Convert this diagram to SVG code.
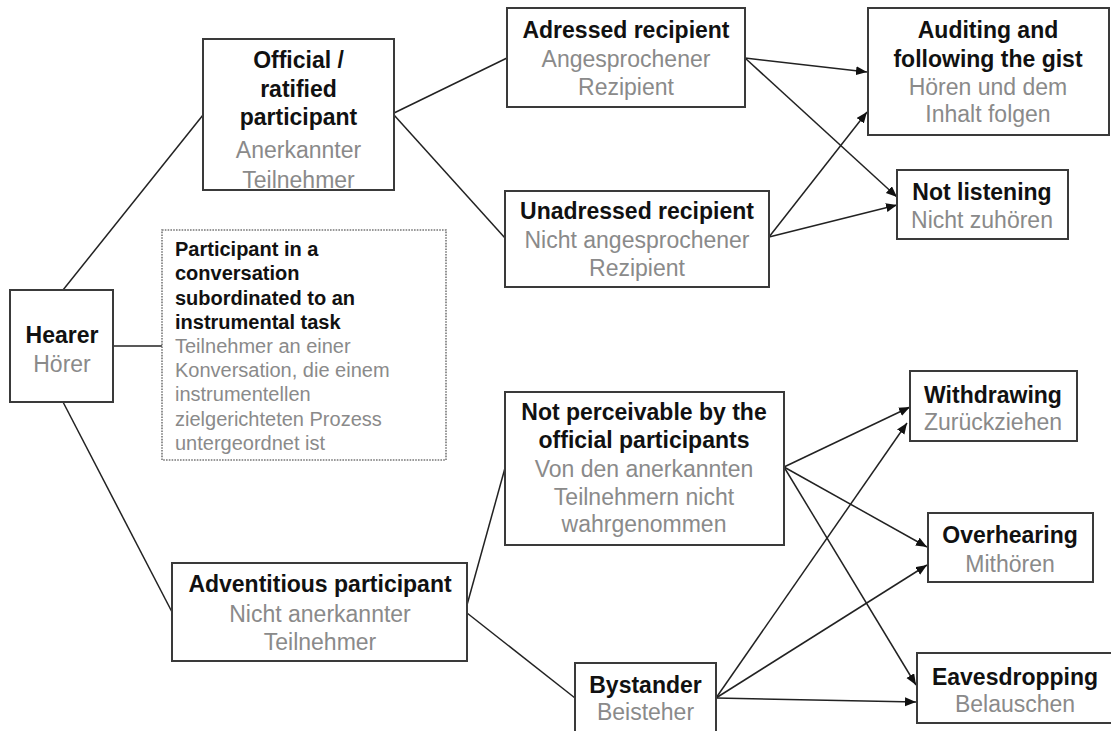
<svg xmlns="http://www.w3.org/2000/svg" width="1111" height="731" viewBox="0 0 1111 731">
<style>
.box{fill:#fff;stroke:#3a3a3a;stroke-width:2}
.dot{fill:#fff;stroke:#777;stroke-width:1.6;stroke-dasharray:1.6 1.2}
.t{font-family:"Liberation Sans",Arial,sans-serif;font-size:23px;text-anchor:middle}
.b{font-weight:bold;fill:#111}
.g{fill:#8a8a8a}
.s{font-family:"Liberation Sans",Arial,sans-serif;font-size:20px}
.ln{stroke:#222;stroke-width:1.5;fill:none}
.ar{stroke:#222;stroke-width:1.5;fill:none;marker-end:url(#ah)}
</style>
<defs>
<marker id="ah" markerUnits="userSpaceOnUse" markerWidth="12" markerHeight="10" refX="11" refY="4.5" orient="auto">
<path d="M0,0 L11,4.5 L0,9 Z" fill="#111"/>
</marker>
</defs>
<rect width="1111" height="731" fill="#fff"/>
<g id="connectors">
<line class="ln" x1="63" y1="290" x2="203" y2="115"/>
<line class="ln" x1="63" y1="402" x2="172" y2="612"/>
<line class="ln" x1="113" y1="346" x2="162" y2="346"/>
<line class="ln" x1="394" y1="113" x2="507" y2="58"/>
<line class="ln" x1="394" y1="115" x2="505" y2="238"/>
<line class="ln" x1="467" y1="605" x2="505" y2="468"/>
<line class="ln" x1="467" y1="613" x2="575" y2="698"/>
<line class="ar" x1="745" y1="58" x2="867" y2="72"/>
<line class="ar" x1="745" y1="58" x2="897" y2="197"/>
<line class="ar" x1="769" y1="237" x2="867" y2="112"/>
<line class="ar" x1="769" y1="237" x2="897" y2="205"/>
<line class="ar" x1="784" y1="467" x2="910" y2="407"/>
<line class="ar" x1="784" y1="467" x2="927" y2="547"/>
<line class="ar" x1="784" y1="467" x2="916" y2="685"/>
<line class="ar" x1="716" y1="698" x2="907" y2="423"/>
<line class="ar" x1="716" y1="698" x2="927" y2="565"/>
<line class="ar" x1="716" y1="698" x2="916" y2="702"/>
</g>
<g id="hearer">
<rect class="box" x="10" y="290" width="103" height="112"/>
<text class="t b" x="62" y="343">Hearer</text>
<text class="t g" x="62" y="372">Hörer</text>
</g>
<g id="official">
<rect class="box" x="203" y="39" width="191" height="151"/>
<text class="t b" x="298.5" y="68">Official /</text>
<text class="t b" x="298.5" y="97">ratified</text>
<text class="t b" x="298.5" y="125">participant</text>
<text class="t g" x="298.5" y="158">Anerkannter</text>
<text class="t g" x="298.5" y="188">Teilnehmer</text>
</g>
<g id="instrumental">
<rect class="dot" x="162" y="230" width="284" height="230"/>
<text class="s b" x="175" y="256">Participant in a</text>
<text class="s b" x="175" y="280">conversation</text>
<text class="s b" x="175" y="304.5">subordinated to an</text>
<text class="s b" x="175" y="328.5">instrumental task</text>
<text class="s g" x="175" y="353">Teilnehmer an einer</text>
<text class="s g" x="175" y="377">Konversation, die einem</text>
<text class="s g" x="175" y="401">instrumentellen</text>
<text class="s g" x="175" y="425.5">zielgerichteten Prozess</text>
<text class="s g" x="175" y="449.5">untergeordnet ist</text>
</g>
<g id="adressed">
<rect class="box" x="507" y="8" width="238" height="99"/>
<text class="t b" x="626" y="38">Adressed recipient</text>
<text class="t g" x="626" y="67">Angesprochener</text>
<text class="t g" x="626" y="95">Rezipient</text>
</g>
<g id="unadressed">
<rect class="box" x="505" y="191" width="264" height="96"/>
<text class="t b" x="637" y="219">Unadressed recipient</text>
<text class="t g" x="637" y="248">Nicht angesprochener</text>
<text class="t g" x="637" y="276">Rezipient</text>
</g>
<g id="auditing">
<rect class="box" x="868" y="8" width="241" height="127"/>
<text class="t b" x="988" y="38">Auditing and</text>
<text class="t b" x="988" y="67">following the gist</text>
<text class="t g" x="988" y="95">Hören und dem</text>
<text class="t g" x="988" y="122">Inhalt folgen</text>
</g>
<g id="notlistening">
<rect class="box" x="897" y="170" width="171" height="69"/>
<text class="t b" x="982" y="200">Not listening</text>
<text class="t g" x="982" y="228">Nicht zuhören</text>
</g>
<g id="adventitious">
<rect class="box" x="172" y="563" width="295" height="98"/>
<text class="t b" x="320" y="592">Adventitious participant</text>
<text class="t g" x="320" y="622">Nicht anerkannter</text>
<text class="t g" x="320" y="650">Teilnehmer</text>
</g>
<g id="notperceivable">
<rect class="box" x="505" y="392" width="279" height="153"/>
<text class="t b" x="644" y="420">Not perceivable by the</text>
<text class="t b" x="644" y="448">official participants</text>
<text class="t g" x="644" y="477">Von den anerkannten</text>
<text class="t g" x="644" y="505">Teilnehmern nicht</text>
<text class="t g" x="644" y="532">wahrgenommen</text>
</g>
<g id="bystander">
<rect class="box" x="575" y="663" width="141" height="80"/>
<text class="t b" x="645.5" y="693">Bystander</text>
<text class="t g" x="645.5" y="720">Beisteher</text>
</g>
<g id="withdrawing">
<rect class="box" x="910" y="371" width="167" height="70"/>
<text class="t b" x="993" y="403">Withdrawing</text>
<text class="t g" x="993" y="430">Zurückziehen</text>
</g>
<g id="overhearing">
<rect class="box" x="928" y="513" width="165" height="69"/>
<text class="t b" x="1010" y="543">Overhearing</text>
<text class="t g" x="1010" y="572">Mithören</text>
</g>
<g id="eavesdropping">
<rect class="box" x="917" y="653" width="200" height="70"/>
<text class="t b" x="1015" y="685">Eavesdropping</text>
<text class="t g" x="1015" y="712">Belauschen</text>
</g>
</svg>
